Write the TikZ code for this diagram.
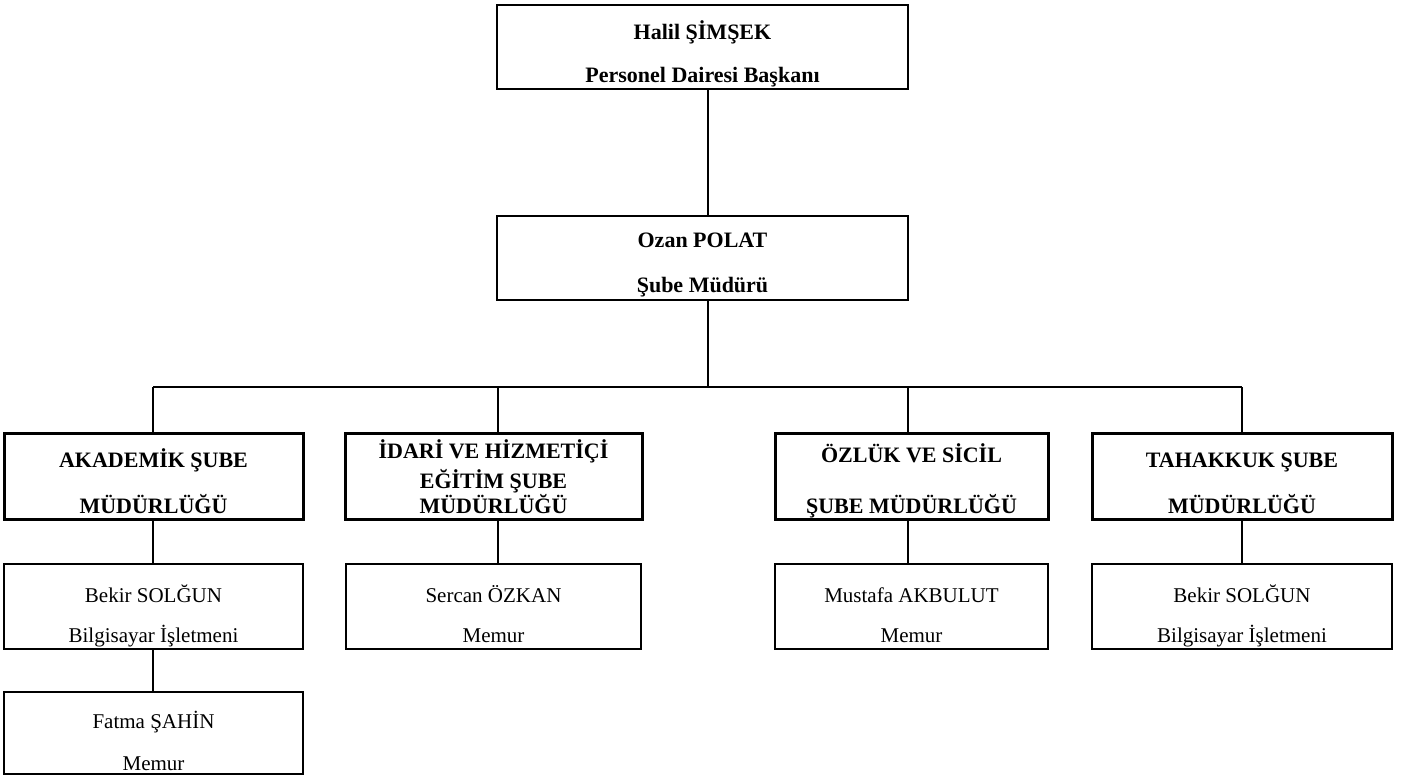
\documentclass[tikz,border=0pt]{standalone}
\usepackage{fontspec}
\setmainfont{Liberation Serif}
\begin{document}
\begin{tikzpicture}[x=1pt,y=-1pt,
  headbox/.style={draw,line width=2.6pt,inner sep=0pt,outer sep=0pt,anchor=north west},
  unitbox/.style={draw,line width=3pt,inner sep=0pt,outer sep=0pt,anchor=north west},
  staffbox/.style={draw,line width=2pt,inner sep=0pt,outer sep=0pt,anchor=north west},
  boldtxt/.style={anchor=base,inner sep=0pt,font=\bfseries\fontsize{22}{24}\selectfont},
  plaintxt/.style={anchor=base,inner sep=0pt,font=\fontsize{21}{24}\selectfont},
  conn/.style={line width=2.2pt}]
\useasboundingbox (0,0) rectangle (1408,776);

% head boxes
\node[headbox,minimum width=411pt,minimum height=84pt] (top) at (497,5) {};
\node[boldtxt] (topa) at (702.5,40) {Halil ŞİMŞEK};
\node[boldtxt] (topb) at (702.5,82) {Personel Dairesi Başkanı};

\node[headbox,minimum width=411pt,minimum height=84pt] (ozan) at (497,216) {};
\node[boldtxt] (ozana) at (702.5,247) {Ozan POLAT};
\node[boldtxt] (ozanb) at (702.5,292) {Şube Müdürü};

% unit boxes
\node[unitbox,minimum width=299pt,minimum height=86pt] (u1) at (4,433) {};
\node[boldtxt] (u1a) at (153.5,467) {AKADEMİK ŞUBE};
\node[boldtxt] (u1b) at (153.5,513) {MÜDÜRLÜĞÜ};

\node[unitbox,minimum width=297pt,minimum height=86pt] (u2) at (345,433) {};
\node[boldtxt] (u2a) at (493.5,458) {İDARİ VE HİZMETİÇİ};
\node[boldtxt] (u2b) at (493.5,488) {EĞİTİM ŞUBE};
\node[boldtxt] (u2c) at (493.5,513) {MÜDÜRLÜĞÜ};

\node[unitbox,minimum width=273pt,minimum height=86pt] (u3) at (775,433) {};
\node[boldtxt] (u3a) at (911.5,462) {ÖZLÜK VE SİCİL};
\node[boldtxt] (u3b) at (911.5,513) {ŞUBE MÜDÜRLÜĞÜ};

\node[unitbox,minimum width=300pt,minimum height=86pt] (u4) at (1092,433) {};
\node[boldtxt] (u4a) at (1242,467) {TAHAKKUK ŞUBE};
\node[boldtxt] (u4b) at (1242,513) {MÜDÜRLÜĞÜ};

% staff boxes
\node[staffbox,minimum width=299pt,minimum height=85pt] (s1) at (4,564) {};
\node[plaintxt] (s1a) at (153.5,602) {Bekir SOLĞUN};
\node[plaintxt] (s1b) at (153.5,642) {Bilgisayar İşletmeni};

\node[staffbox,minimum width=299pt,minimum height=82pt] (s5) at (4,692) {};
\node[plaintxt] (s5a) at (153.5,728) {Fatma ŞAHİN};
\node[plaintxt] (s5b) at (153.5,770) {Memur};

\node[staffbox,minimum width=295pt,minimum height=85pt] (s2) at (346,564) {};
\node[plaintxt] (s2a) at (493.5,602) {Sercan ÖZKAN};
\node[plaintxt] (s2b) at (493.5,642) {Memur};

\node[staffbox,minimum width=273pt,minimum height=85pt] (s3) at (775,564) {};
\node[plaintxt] (s3a) at (911.5,602) {Mustafa AKBULUT};
\node[plaintxt] (s3b) at (911.5,642) {Memur};

\node[staffbox,minimum width=300pt,minimum height=85pt] (s4) at (1092,564) {};
\node[plaintxt] (s4a) at (1242,602) {Bekir SOLĞUN};
\node[plaintxt] (s4b) at (1242,642) {Bilgisayar İşletmeni};

% junction coordinates
\coordinate (j0) at (708,387);
\coordinate (j1) at (153,387);
\coordinate (j2) at (498,387);
\coordinate (j3) at (908,387);
\coordinate (j4) at (1242,387);

% connectors
\draw[conn] (top.south -| j0) -- (ozan.north -| j0);
\draw[conn] (ozan.south -| j0) -- (j0);
\draw[conn] (j1) -- (j4);
\draw[conn] (j1) -- (u1.north -| j1);
\draw[conn] (j2) -- (u2.north -| j2);
\draw[conn] (j3) -- (u3.north -| j3);
\draw[conn] (j4) -- (u4.north -| j4);
\draw[conn] (u1.south -| j1) -- (s1.north -| j1);
\draw[conn] (u2.south -| j2) -- (s2.north -| j2);
\draw[conn] (u3.south -| j3) -- (s3.north -| j3);
\draw[conn] (u4.south -| j4) -- (s4.north -| j4);
\draw[conn] (s1.south -| j1) -- (s5.north -| j1);
\end{tikzpicture}
\end{document}
